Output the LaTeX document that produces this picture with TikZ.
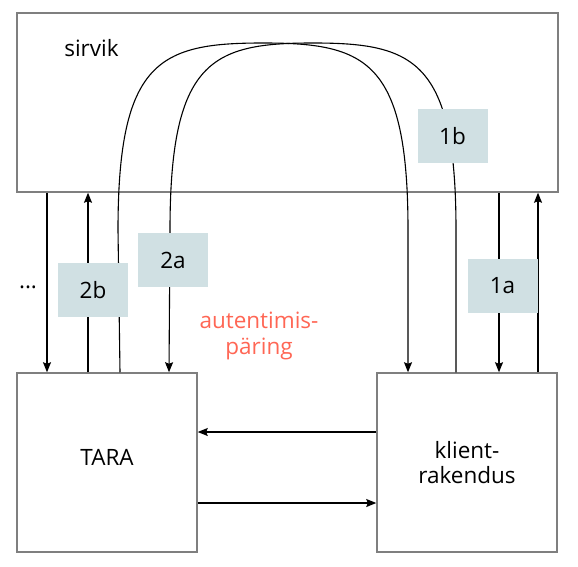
\documentclass[tikz,border=0pt]{standalone}
\usepackage{fontspec}
\setmainfont{Open Sans}
\usepackage{xcolor}
\usepackage{tikz}
\usetikzlibrary{arrows.meta,positioning,calc}
\definecolor{boxgray}{HTML}{7F7F7F}
\definecolor{tagfill}{HTML}{D0E0E3}
\definecolor{salmon}{HTML}{FF6654}

\begin{document}
\begin{tikzpicture}[
    x=1pt, y=-1pt,
    font=\fontsize{22.5}{25.5}\selectfont,
    system/.style={rectangle, draw=boxgray, line width=1.5pt, minimum width=180pt, minimum height=179pt, inner sep=0pt, align=center},
    tag/.style={rectangle, fill=tagfill, minimum width=70pt, minimum height=54pt, inner sep=0pt},
    arrow/.style={-{Stealth[length=10pt,width=8pt,inset=1.5pt]}, line width=1.1pt}
]
\useasboundingbox (0,0) rectangle (578,567);
\node[system, minimum width=541pt] (srv) at (287.5,102.5) {};
\node[anchor=base] (srvname) at (91.5,57) {sirvik};
\node[system, text height=16pt, text depth=11pt] (tara) at (107,462.5) {TARA};
\node[system] (kr) at (467,462.5) {klient-\\rakendus};
% TARA <-> sirvik
\draw[arrow] ([xshift=-60pt]tara.north |- srv.south) -- ([xshift=-60pt]tara.north);
\draw[arrow] ([xshift=-19pt]tara.north) -- ([xshift=-19pt]tara.north |- srv.south);
% klient <-> sirvik
\draw[arrow] ([xshift=32pt]kr.north |- srv.south) -- ([xshift=32pt]kr.north);
\draw[arrow] ([xshift=71pt]kr.north) -- ([xshift=71pt]kr.north |- srv.south);
% redirects through sirvik
\draw[arrow] ([xshift=13pt]tara.north) -- (118,230) .. controls (118,60) and (160,43) .. (263,43)
    .. controls (366,43) and (408,60) .. (408,230) -- ([xshift=-59pt]kr.north);
\draw[arrow] ([xshift=-11pt]kr.north) -- (456,230) .. controls (456,60) and (414,43) .. (313,43)
    .. controls (212,43) and (170,60) .. (170,230) -- ([xshift=62pt]tara.north);
% back channel
\draw[arrow] ([yshift=30.5pt]kr.west) -- ([yshift=30.5pt]kr.west -| tara.east);
\draw[arrow] ([yshift=-40.5pt]tara.east) -- ([yshift=-40.5pt]tara.east -| kr.west);
\node[tag] (t1a) at (502.5,286) {1a};
\node[tag] (t1b) at (452.5,136) {1b};
\node[tag] (t2a) at (173,260) {2a};
\node[tag] (t2b) at (93,290) {2b};
\node[anchor=base] (dots) at (28,288) {...};
\node[text=salmon, align=center] (auth) at (259,336) {autentimis-\\päring};
\end{tikzpicture}
\end{document}
